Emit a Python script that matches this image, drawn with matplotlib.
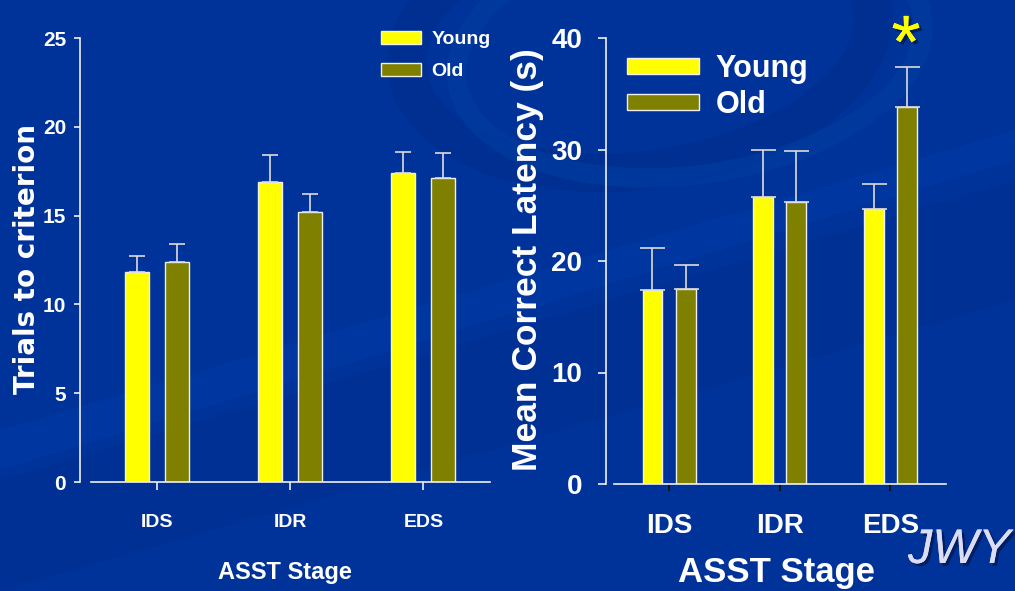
import matplotlib
matplotlib.use('Agg')
import matplotlib.pyplot as plt
import matplotlib.patheffects as pe
from matplotlib.patches import Ellipse, Polygon
from matplotlib import font_manager

stages = ['IDS', 'IDR', 'EDS']
groups = ['Young', 'Old']

# trials to criterion (left panel)
trials_young = [11.8, 16.9, 17.4]
trials_young_err = [0.9, 1.5, 1.2]
trials_old = [12.4, 15.2, 17.1]
trials_old_err = [1.0, 1.0, 1.4]

# mean correct latency in s (right panel)
lat_young = [17.4, 25.7, 24.7]
lat_young_err = [3.8, 4.3, 2.2]
lat_old = [17.5, 25.3, 33.8]
lat_old_err = [2.1, 4.6, 3.6]

yellow = '#ffff00'
olive = '#808000'
bg = '#003399'
white = '#f0f0f0'

names = {f.name for f in font_manager.fontManager.ttflist}
narrow = 'Liberation Sans Narrow' if 'Liberation Sans Narrow' in names else 'Liberation Sans'
arial = 'Liberation Sans'

W, H = 1015, 591
fig = plt.figure(figsize=(W / 100, H / 100), dpi=100, facecolor=bg)

# background swooshes
bgax = fig.add_axes([0, 0, 1, 1], zorder=-5)
bgax.set_xlim(0, W); bgax.set_ylim(H, 0); bgax.axis('off')
bgax.add_patch(Ellipse((640, 40), 470, 260, angle=-8, fill=False, lw=28, ec='#002f92', alpha=0.9))
bgax.add_patch(Ellipse((690, 50), 470, 250, angle=-8, fill=False, lw=14, ec='#003a9e', alpha=0.8))
bgax.add_patch(Polygon([[0, 480], [1015, 180], [1015, 300], [0, 591]], closed=True, fc='#002e8f', ec='none', alpha=0.55))
bgax.add_patch(Polygon([[0, 430], [1015, 130], [1015, 160], [0, 470]], closed=True, fc='#003aa5', ec='none', alpha=0.5))


def bars(ax, yv, ye, ov, oe, width, capsize):
    x = range(len(stages))
    xs_y = [i - 0.15 for i in x]
    xs_o = [i + 0.15 for i in x]
    eb = dict(ecolor='#dcdcdc', elinewidth=1.2, capsize=capsize, capthick=1.2)
    ax.bar(xs_y, yv, width, color=yellow, edgecolor=white, linewidth=1, label=groups[0])
    ax.bar(xs_o, ov, width, color=olive, edgecolor=white, linewidth=1, label=groups[1])
    ax.errorbar(xs_y, yv, yerr=[[0] * 3, ye], fmt='none', **eb)
    ax.errorbar(xs_o, ov, yerr=[[0] * 3, oe], fmt='none', **eb)
    ax.set_facecolor('none')
    for s in ['top', 'right']:
        ax.spines[s].set_visible(False)
    for s in ['left', 'bottom']:
        ax.spines[s].set_color(white)
        ax.spines[s].set_linewidth(1.2)
    ax.spines['bottom'].set_bounds(-0.5, 2.5)


# left panel
ax1 = fig.add_axes([80 / W, 1 - 482 / H, (490 - 80) / W, (482 - 38) / H])
bars(ax1, trials_young, trials_young_err, trials_old, trials_old_err, 0.18, 6)
ax1.set_xlim(-0.58, 2.5)
ax1.set_ylim(0, 25)
ax1.set_yticks([0, 5, 10, 15, 20, 25])
ax1.set_xticks(range(3))
ax1.set_xticklabels(stages, fontfamily=narrow, fontweight='bold', fontsize=14, color='white')
ax1.set_yticklabels([0, 5, 10, 15, 20, 25], fontfamily=narrow, fontweight='bold', fontsize=15, color='white')
ax1.tick_params(axis='y', colors=white, length=4, width=1.2, pad=6, labelcolor='white')
ax1.tick_params(axis='x', colors=white, length=6, width=1.2, pad=17, labelcolor='white')
ax1.set_xlabel('ASST Stage', fontfamily=narrow, fontweight='bold', fontsize=17, color='white', labelpad=22)
fig.text(27 / W, 1 - 259 / H, 'Trials to criterion', rotation=90, ha='center', va='center',
         fontfamily='DejaVu Sans', fontweight='bold', fontsize=20, color='white')
leg1 = ax1.legend(loc='upper left', bbox_to_anchor=(381 / W, 1 - 31 / H), bbox_transform=fig.transFigure,
                  frameon=False, borderpad=0, borderaxespad=0, handlelength=2.05, handleheight=0.65,
                  handletextpad=0.55, labelspacing=0.75,
                  prop=dict(family=narrow, weight='bold', size=14))
for t in leg1.get_texts():
    t.set_color('white')

# right panel
ax2 = fig.add_axes([606 / W, 1 - 484 / H, (946 - 606) / W, (484 - 38) / H])
bars(ax2, lat_young, lat_young_err, lat_old, lat_old_err, 0.18, 9)
ax2.set_xlim(-0.57, 2.502)
ax2.set_ylim(0, 40)
ax2.set_yticks([0, 10, 20, 30, 40])
ax2.set_xticks(range(3))
ax2.set_xticklabels(stages, fontfamily=arial, fontweight='bold', fontsize=20, color='white')
ax2.set_yticklabels([0, 10, 20, 30, 40], fontfamily=arial, fontweight='bold', fontsize=20, color='white')
ax2.tick_params(axis='y', colors=white, length=6, width=1.2, pad=11, labelcolor='white')
ax2.tick_params(axis='x', colors='#101010', length=5, width=1.5, pad=16, labelcolor='white')
ax2.set_xlabel('ASST Stage', fontfamily=arial, fontweight='bold', fontsize=25, color='white', labelpad=12)
fig.text(527 / W, 1 - 260 / H, 'Mean Correct Latency (s)', rotation=90, ha='center', va='center',
         fontfamily=arial, fontweight='bold', fontsize=25.5, color='white')
leg2 = ax2.legend(loc='upper left', bbox_to_anchor=(627 / W, 1 - 54 / H), bbox_transform=fig.transFigure,
                  frameon=False, borderpad=0, borderaxespad=0, handlelength=2.35, handleheight=0.45,
                  handletextpad=0.55, labelspacing=0.2,
                  prop=dict(family=arial, weight='bold', size=22))
for t in leg2.get_texts():
    t.set_color('white')

shadow = [pe.withSimplePatchShadow(offset=(2, -2), shadow_rgbFace='#001a55', alpha=0.8), pe.Normal()]
fig.text(906 / W, 1 - 48 / H, '*', ha='center', va='center', fontfamily=arial, fontsize=54,
         color=yellow, path_effects=shadow)
fig.text(908 / W, 1 - 563 / H, 'JWY', ha='left', va='baseline', fontfamily=arial, style='italic',
         fontsize=35, color='#dcdcf5', path_effects=shadow)

fig.savefig('out.png', dpi=100, facecolor=bg)
